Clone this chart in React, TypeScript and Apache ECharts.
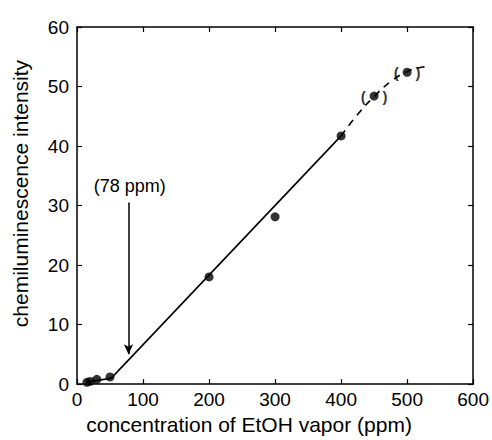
import React, { useEffect, useRef } from "react";
import * as echarts from "echarts";

const xTicks = [0, 100, 200, 300, 400, 500, 600];
const yTicks = [0, 10, 20, 30, 40, 50, 60];
const measured: [number, number][] = [
  [15, 0.3], [20, 0.45], [30, 0.8], [50, 1.2], [200, 18.0], [300, 28.1], [400, 41.7],
];
const bracketed: [number, number][] = [[450, 48.4], [500, 52.4]];
const fitLine: [number, number][] = [[52, 1.0], [400, 41.7]];
const lowSegment: [number, number][] = [[15, 0.3], [52, 1.0]];
const saturationCurve: [number, number][] = [
  [400, 41.7], [425, 45.3], [450, 48.3], [475, 50.8], [500, 52.5], [520, 53.2], [535, 53.4],
];
const arrowFrom: [number, number] = [78, 30.5];
const arrowTo: [number, number] = [78, 5];
const arrowLabel = "(78 ppm)";
const arrowLabelPos: [number, number] = [80, 33.3];

const FONT = "Liberation Sans, Arial, Helvetica, sans-serif";

export default function App() {
  const ref = useRef<HTMLDivElement>(null);
  useEffect(() => {
    const chart = echarts.init(ref.current!, null, { renderer: "svg" });
    const axisCommon = {
      type: "value",
      min: 0,
      axisLine: { show: true, onZero: false, lineStyle: { color: "#000", width: 1.5 } },
      axisTick: { show: true, inside: true, length: 5, lineStyle: { color: "#000", width: 1.2 } },
      splitLine: { show: false },
    };
    chart.setOption({
      animation: false,
      backgroundColor: "#fff",
      grid: { left: 77, top: 27, right: 18, bottom: 54 },
      xAxis: [
        {
          ...axisCommon,
          max: 600,
          interval: 100,
          position: "bottom",
          axisLabel: { color: "#000", fontSize: 19, fontFamily: FONT, margin: 6 },
          name: "concentration of EtOH vapor (ppm)",
          nameLocation: "middle",
          nameGap: 28,
          nameTextStyle: { color: "#000", fontSize: 21, fontFamily: FONT, padding: [0, 52, 0, 0] },
        },
        {
          ...axisCommon,
          max: 600,
          interval: 100,
          position: "top",
          axisLabel: { show: false },
        },
      ],
      yAxis: [
        {
          ...axisCommon,
          max: 60,
          interval: 10,
          position: "left",
          axisLabel: { color: "#000", fontSize: 19, fontFamily: FONT, margin: 8 },
          name: "chemiluminescence intensity",
          nameLocation: "middle",
          nameGap: 46,
          nameTextStyle: { color: "#000", fontSize: 21, fontFamily: FONT, padding: [0, 0, 0, 24] },
        },
        {
          ...axisCommon,
          max: 60,
          interval: 10,
          position: "right",
          axisLabel: { show: false },
        },
      ],
      series: [
        {
          type: "line",
          data: fitLine,
          symbol: "none",
          lineStyle: { color: "#000", width: 1.6 },
        },
        {
          type: "line",
          data: lowSegment,
          symbol: "none",
          lineStyle: { color: "#000", width: 1.6 },
        },
        {
          type: "line",
          data: saturationCurve,
          symbol: "none",
          smooth: true,
          lineStyle: { color: "#000", width: 1.6, type: [7, 6] },
        },
        {
          type: "scatter",
          data: measured,
          symbol: "circle",
          symbolSize: 9,
          itemStyle: { color: "#000" },
        },
        {
          type: "scatter",
          data: bracketed,
          symbol: "circle",
          symbolSize: 9,
          itemStyle: { color: "#000" },
          label: {
            show: true,
            position: "inside",
            formatter: "(    )",
            color: "#000",
            fontSize: 15,
            fontWeight: "bold",
            fontFamily: FONT,
          },
        },
        {
          type: "scatter",
          data: [arrowLabelPos],
          symbolSize: 0,
          itemStyle: { color: "#000", opacity: 0 },
          label: {
            show: true,
            position: "inside",
            formatter: arrowLabel,
            color: "#000",
            opacity: 1,
            fontSize: 18,
            fontFamily: FONT,
          },
          markLine: {
            silent: true,
            symbol: ["none", "arrow"],
            symbolSize: [7, 10],
            label: { show: false },
            lineStyle: { color: "#000", width: 1.5, type: "solid" },
            data: [[{ coord: arrowFrom }, { coord: arrowTo }]],
          },
        },
      ],
    });
    return () => chart.dispose();
  }, []);
  return (
    <div
      ref={ref}
      style={{ position: "absolute", left: 0, top: 0, width: 492, height: 440 }}
    />
  );
}
